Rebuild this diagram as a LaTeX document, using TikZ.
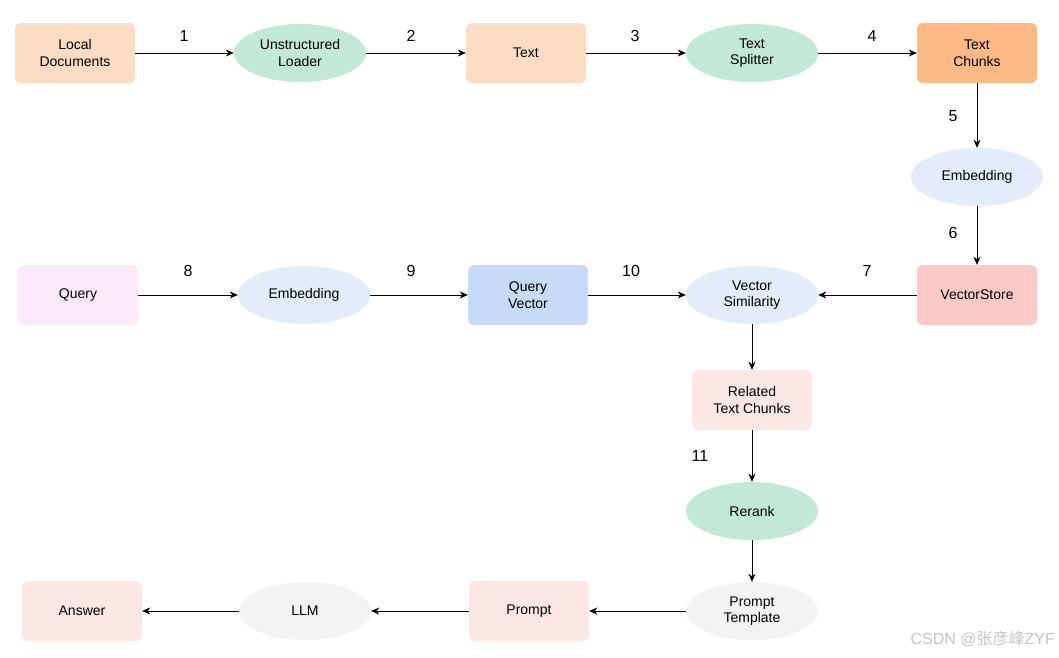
\documentclass[tikz,border=0pt]{standalone}
\usepackage{fontspec}
\setmainfont{Liberation Sans}
\newfontfamily\cjk{Noto Sans CJK SC}
\usetikzlibrary{shapes.geometric,arrows.meta}
\definecolor{peach}{HTML}{FDDCC4}
\definecolor{orangebox}{HTML}{FBB984}
\definecolor{greenel}{HTML}{C2E8D6}
\definecolor{blueel}{HTML}{E2ECFB}
\definecolor{bluebox}{HTML}{C7DBF8}
\definecolor{redbox}{HTML}{FDC9C6}
\definecolor{pinkbox}{HTML}{FDE7E5}
\definecolor{querybox}{HTML}{FCE9FB}
\definecolor{grayel}{HTML}{F3F3F3}
\definecolor{wm}{HTML}{C4C4C4}
\tikzset{
  box/.style={rectangle, rounded corners=6pt, minimum width=120pt, minimum height=60pt, align=center, font=\fontsize{14}{16.5}\selectfont, inner sep=0pt},
  oval/.style={ellipse, minimum width=132pt, minimum height=58pt, align=center, font=\fontsize{14}{16.5}\selectfont, inner sep=0pt},
  conn/.style={-{Stealth[length=8pt,width=7pt,inset=2.5pt]}, line width=0.9pt},
  num/.style={font=\fontsize{16}{18}\selectfont},
}
\begin{document}
\begin{tikzpicture}[x=1pt,y=-1pt]
\useasboundingbox (0,0) rectangle (1059,657);
% row 1
\node[box, fill=peach] (local) at (75,53) {Local\\Documents};
\node[oval, fill=greenel] (loader) at (300,53) {Unstructured\\Loader};
\node[box, fill=peach] (text) at (526,53) {Text};
\node[oval, fill=greenel] (splitter) at (752,53) {Text\\Splitter};
\node[box, fill=orangebox] (chunks) at (977,53) {Text\\Chunks};
\node[oval, fill=blueel] (emb1) at (977,177) {Embedding};
% row 2
\node[box, fill=redbox] (store) at (977,295) {VectorStore};
\node[oval, fill=blueel] (sim) at (752,295) {Vector\\Similarity};
\node[box, fill=bluebox] (qvec) at (528,295) {Query\\Vector};
\node[oval, fill=blueel] (emb2) at (304,295) {Embedding};
\node[box, fill=querybox] (query) at (78,295) {Query};
% column
\node[box, fill=pinkbox] (related) at (752,400) {Related\\Text Chunks};
\node[oval, fill=greenel] (rerank) at (752,511) {Rerank};
\node[oval, fill=grayel] (ptemp) at (752,611) {Prompt\\Template};
% row 3
\node[box, fill=pinkbox] (prompt) at (529,611) {Prompt};
\node[oval, fill=grayel] (llm) at (305,611) {LLM};
\node[box, fill=pinkbox] (answer) at (82,611) {Answer};
% connectors
\draw[conn] (local) -- (loader);
\draw[conn] (loader) -- (text);
\draw[conn] (text) -- (splitter);
\draw[conn] (splitter) -- (chunks);
\draw[conn] (chunks) -- (emb1);
\draw[conn] (emb1) -- (store);
\draw[conn] (store) -- (sim);
\draw[conn] (query) -- (emb2);
\draw[conn] (emb2) -- (qvec);
\draw[conn] (qvec) -- (sim);
\draw[conn] (sim) -- (related);
\draw[conn] (related) -- (rerank);
\draw[conn] (rerank) -- (ptemp);
\draw[conn] (ptemp) -- (prompt);
\draw[conn] (prompt) -- (llm);
\draw[conn] (llm) -- (answer);
% labels
\node[num] (n1) at (184,36) {1};
\node[num] (n2) at (411,36) {2};
\node[num] (n3) at (635,36) {3};
\node[num] (n4) at (872,36) {4};
\node[num] (n5) at (953,116) {5};
\node[num] (n6) at (953,233) {6};
\node[num] (n7) at (867,271) {7};
\node[num] (n8) at (188,271) {8};
\node[num] (n9) at (411,271) {9};
\node[num] (n10) at (631,271) {10};
\node[num] (n11) at (700,456) {11};
% watermark
\node[anchor=east, text=wm, font=\fontsize{16}{18}\selectfont, inner sep=0pt] (wmark) at (1055,639) {CSDN @{\cjk 张彦峰}ZYF};
\end{tikzpicture}
\end{document}
